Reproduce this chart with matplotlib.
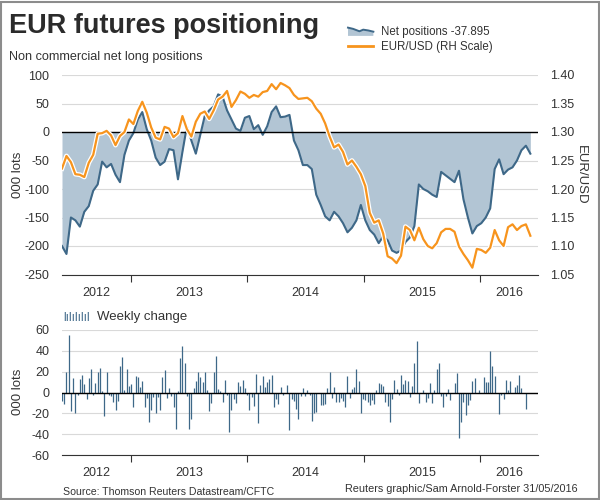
import numpy as np
import pandas as pd
import matplotlib
matplotlib.use('Agg')
import matplotlib.pyplot as plt
import matplotlib.dates as mdates
import matplotlib.patheffects as pe
from matplotlib.patches import Polygon, Rectangle
from matplotlib.lines import Line2D
from matplotlib.legend_handler import HandlerBase
from matplotlib.ticker import FormatStrFormatter

plt.rcParams['font.family'] = ['Liberation Sans', 'DejaVu Sans']
plt.rcParams['axes.unicode_minus'] = False

# net non-commercial positions, 000 lots, every two weeks from end of May 2012
net = [-200, -214, -150, -155, -166, -140, -130, -103, -92, -52,
       -62, -56, -75, -88, -40, -15, -2, 22, 35, 5,
       -15, -45, -58, -52, -30, -32, -83, -35, 10, -15,
       -38, -5, 28, 38, 45, 66, 62, 38, 22, 6,
       2, 25, 28, 5, 12, -5, 10, 35, 45, 26,
       27, 30, -15, -32, -58, -58, -65, -110, -128, -148,
       -155, -140, -148, -160, -176, -168, -155, -128, -155, -172,
       -180, -195, -183, -190, -208, -212, -208, -193, -185, -165,
       -92, -100, -104, -110, -114, -70, -76, -82, -88, -68,
       -118, -150, -178, -165, -160, -150, -134, -65, -48, -74,
       -66, -62, -50, -32, -24, -38]

# EUR/USD on the same dates
eurusd = [1.236, 1.258, 1.247, 1.226, 1.225, 1.221, 1.246, 1.260, 1.297, 1.298,
          1.302, 1.294, 1.277, 1.293, 1.300, 1.322, 1.314, 1.337, 1.353, 1.334,
          1.308, 1.290, 1.287, 1.309, 1.306, 1.291, 1.298, 1.328, 1.305, 1.292,
          1.318, 1.332, 1.336, 1.323, 1.338, 1.357, 1.362, 1.372, 1.344, 1.356,
          1.371, 1.367, 1.360, 1.365, 1.362, 1.370, 1.372, 1.384, 1.375, 1.386,
          1.382, 1.377, 1.365, 1.358, 1.359, 1.360, 1.354, 1.341, 1.332, 1.315,
          1.292, 1.273, 1.278, 1.265, 1.243, 1.250, 1.239, 1.226, 1.205, 1.158,
          1.141, 1.145, 1.122, 1.082, 1.078, 1.070, 1.083, 1.134, 1.128, 1.110,
          1.132, 1.112, 1.100, 1.096, 1.105, 1.124, 1.130, 1.130, 1.125, 1.099,
          1.086, 1.075, 1.062, 1.095, 1.093, 1.088, 1.097, 1.128, 1.110, 1.100,
          1.133, 1.138, 1.128, 1.135, 1.138, 1.118]

# weekly change in net positions, 000 lots
weekly = [-8, -11, 20, 55, -18, 14, -20, -2, 13, 17,
          8, -6, 14, 23, -2, 9, 20, 24, 1, -23,
          20, -2, -3, -9, -17, -8, 25, 34, 2, 23,
          6, 8, -14, 16, 15, 5, 11, -14, -5, -28,
          -17, -4, -20, -4, -17, 15, 22, -5, 4, -3,
          -14, -35, 1, 33, 45, 28, -3, -35, -25, 4,
          11, 20, 15, 10, 20, 2, -18, -10, 20, 35,
          3, 1, -9, 12, -2, -38, -17, -6, -10, 10,
          6, 12, 4, -2, -17, -4, -13, 18, -29, 7,
          16, 5, 10, 13, 17, -14, -6, -11, 5, -2,
          0, 7, -36, -6, -8, -16, -25, -3, 4, -3,
          2, -2, -27, -20, -19, 0, -12, -12, -11, 4,
          20, -5, 5, -9, -9, -5, -8, -14, 16, -5,
          3, 5, 23, 11, -20, -6, -7, -9, -12, -7,
          -11, 2, 9, 8, 6, -9, -13, -28, -6, 12,
          3, -2, 17, 8, 12, 11, -4, 6, 28, 49,
          -10, 0, 2, -9, -5, 9, -10, 2, 23, 28,
          -3, -14, -3, 3, -7, 0, 9, 19, -44, -28,
          -9, -22, -12, -7, 11, 14, 0, 2, 0, 15,
          10, 10, 40, 25, 16, 0, -21, -2, -6, 12,
          2, 11, 0, 5, 7, 17, 4, 0, -16]

years = [2012, 2013, 2014, 2015, 2016]

BLUE = '#3e6888'
FILL = '#b2c5d4'
ORANGE = '#f7941d'
TXT = '#333333'
GRID = '#d9d9d9'


class AreaHandler(HandlerBase):
    # small area-chart glyph for the legend
    def create_artists(self, legend, orig, xd, yd, w, h, fontsize, trans):
        xs = -xd + w * np.array([0, 0.2, 0.45, 0.6, 0.8, 1.0])
        ys = -yd + h * np.array([0.85, 0.7, 0.4, 0.6, 0.5, 0.35])
        poly = Polygon(np.column_stack([np.r_[xs, xs[-1], xs[0]], np.r_[ys, -yd - 1, -yd - 1]]),
                       closed=True, fc=FILL, ec='none', transform=trans)
        line = Line2D(xs, ys, color=BLUE, lw=1.4, transform=trans)
        return [poly, line]


dates_line = pd.date_range('2012-05-29', periods=len(net), freq='14D')
dates_bar = pd.date_range('2012-05-29', periods=len(weekly), freq='7D')
x0 = pd.Timestamp('2012-05-29')
x1 = pd.Timestamp('2016-07-01')

fig = plt.figure(figsize=(6, 5), dpi=100)
ax = fig.add_axes([62/600, 1-274.5/500, 476/600, 199.5/500])
ax2 = ax.twinx()
axb = fig.add_axes([62/600, 1-455/500, 476/600, 125/500], sharex=ax)

# top panel
ax.fill_between(dates_line, net, 0, color=FILL, lw=0)
net_line, = ax.plot(dates_line, net, color=BLUE, lw=1.5)
ax.axhline(0, color='black', lw=1)
ax.set_ylim(-250, 100)
ax.set_yticks(range(-250, 101, 50))
ax.grid(axis='y', color=GRID, lw=0.8)
ax.set_axisbelow(True)

eur_line, = ax2.plot(dates_line, eurusd, color=ORANGE, lw=1.6,
                     path_effects=[pe.Stroke(linewidth=3.4, foreground='white'), pe.Normal()])
ax2.set_ylim(1.05, 1.40)
ax2.set_yticks(np.arange(1.05, 1.401, 0.05))
ax2.yaxis.set_major_formatter(FormatStrFormatter('%.2f'))

# bottom panel
axb.vlines(dates_bar, 0, weekly, color=BLUE, lw=0.9)
axb.axhline(0, color='black', lw=1)
axb.set_ylim(-60, 60)
axb.set_yticks(range(-60, 61, 20))
axb.grid(axis='y', color=GRID, lw=0.8)
axb.set_axisbelow(True)

# x axis: ticks at year boundaries, labels centred in each year
bounds = [x0] + [pd.Timestamp(f'{y}-01-01') for y in years[1:]] + [x1]
centres = [mdates.date2num(bounds[i]) / 2 + mdates.date2num(bounds[i+1]) / 2 for i in range(len(years))]
for a in (ax, axb):
    a.set_xlim(x0, x1)
    for s in ('left', 'right', 'top'):
        a.spines[s].set_visible(False)
    a.spines['bottom'].set_color(TXT)
    a.xaxis.set_major_locator(mdates.YearLocator())
    a.xaxis.set_major_formatter(plt.NullFormatter())
    a.set_xticks(centres, minor=True)
    a.set_xticklabels([str(y) for y in years], minor=True)
    a.tick_params(axis='x', which='major', length=5, color=TXT, direction='out')
    a.tick_params(axis='x', which='minor', length=0, pad=9, labelsize=9, labelcolor=TXT)
    a.tick_params(axis='y', length=0, pad=9, labelsize=9, labelcolor=TXT)
for s in ax2.spines.values():
    s.set_visible(False)
ax2.tick_params(axis='y', length=0, pad=9, labelsize=9, labelcolor=TXT)

# texts
fig.text(9/600, 1-33.3/500, 'EUR futures positioning', fontsize=19.5, fontweight='bold',
         va='baseline', color='#2b2b2b')
fig.text(9/600, 1-60/500, 'Non commercial net long positions', fontsize=9.1,
         va='baseline', color=TXT)
fig.text(18/600, 1-175/500, '000 lots', rotation=90, ha='center', va='center',
         fontsize=9.5, color=TXT)
fig.text(581/600, 1-175/500, 'EUR/USD', rotation=270, ha='center', va='center',
         fontsize=9.5, color=TXT)
fig.text(18/600, 1-392/500, '000 lots', rotation=90, ha='center', va='center',
         fontsize=9.5, color=TXT)

fig.legend(handles=[net_line, Line2D([], [], color=ORANGE, lw=2)],
           labels=['Net positions -37.895', 'EUR/USD (RH Scale)'],
           handler_map={net_line: AreaHandler()},
           loc='upper left', bbox_to_anchor=(348/600, 1-25.5/500), frameon=False,
           fontsize=8.3, handlelength=2.2, handletextpad=0.7,
           labelspacing=0.3, borderpad=0, borderaxespad=0, labelcolor=TXT)

fig.text(63/600, 1-318/500, 'lılılılıl', color=BLUE, fontsize=8.5, va='center')
fig.text(97/600, 1-317/500, 'Weekly change', fontsize=9.5, va='center', color=TXT)

fig.text(63/600, 1-492/500, 'Source: Thomson Reuters Datastream/CFTC', fontsize=7.6,
         va='center', color=TXT)
fig.text(578/600, 1-489/500, 'Reuters graphic/Sam Arnold-Forster 31/05/2016',
         fontsize=7.8, ha='right', va='center', color=TXT)

fig.add_artist(Rectangle((0.002, 0.002), 0.996, 0.995, transform=fig.transFigure,
                         fill=False, ec='#8c8c8c', lw=1.5))

fig.savefig('out.png', dpi=100)
